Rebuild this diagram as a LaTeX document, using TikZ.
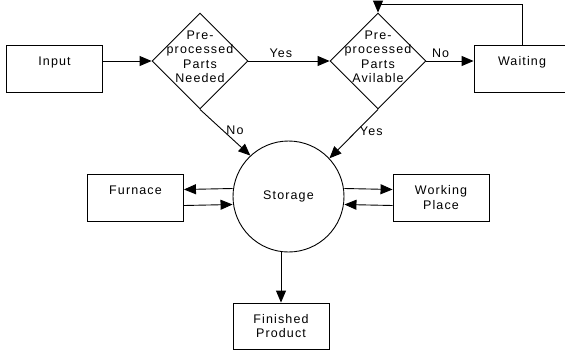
\documentclass[tikz,border=0pt]{standalone}
\usepackage{fontspec}
\setmainfont{Liberation Sans}[LetterSpace=9]
\usetikzlibrary{arrows.meta,shapes.geometric}
\newcommand{\flowfont}{\fontsize{12.5}{14.5}\selectfont}
\tikzset{
  box/.style={draw, line width=0.9pt, minimum width=96pt, minimum height=47pt,
              inner sep=0pt, align=center, font=\flowfont},
  onebox/.style={box, text height=9pt, text depth=15pt},
  ask/.style={draw, diamond, line width=0.9pt, minimum width=96pt, minimum height=96pt,
              inner sep=0pt},
  asktext/.style={font=\flowfont, align=center, yshift=4pt},
  lbl/.style={font=\flowfont},
  arr/.style={-{Triangle[length=12pt, width=10pt]}, line width=0.9pt},
}
\begin{document}
\begin{tikzpicture}[x=1pt, y=-1pt]
    \useasboundingbox (0,0) rectangle (565,351);
    \node[onebox] (in) at (54.5,68.5) {Input};
    \node[ask, label={[asktext]center:Pre-\\processed\\Parts\\Needed}] (need) at (200,61) {};
    \node[ask, label={[asktext]center:Pre-\\processed\\Parts\\Avilable}] (avail) at (378,61) {};
    \node[onebox] (wait) at (522,68.5) {Waiting};
    \node[draw, circle, line width=0.9pt, minimum size=111pt, inner sep=0pt, font=\flowfont]
      (store) at (288.5,196.5) {Storage};
    \node[onebox] (furn) at (135.5,197.5) {Furnace};
    \node[box] (work) at (441,197.5) {Working\\Place};
    \node[box, minimum height=46pt] (fin) at (281,326) {Finished\\Product};
    \draw[arr] (in.east |- need.west) -- (need.west);
    \draw[arr] (need.east) -- node[lbl, above, pos=0.4] {Yes} (avail.west);
    \draw[arr] (avail.east) -- node[lbl, above, pos=0.3] {No} (avail.east -| wait.west);
    \draw[arr] (wait.north) -- ++(0,-40) -| (avail.north);
    \draw[arr] (need.south) -- node[lbl, right, pos=0.45] {No} (store.133);
    \draw[arr] (avail.south) -- node[lbl, right, pos=0.45] {Yes} (store.43);
    \draw[arr] ([yshift=8pt]store.west) -- ([yshift=8pt]furn.east);
    \draw[arr] ([yshift=-8pt]furn.east) -- ([yshift=-8pt]store.west);
    \draw[arr] ([yshift=8pt]store.east) -- ([yshift=8pt]work.west);
    \draw[arr] ([yshift=-8pt]work.west) -- ([yshift=-8pt]store.east);
    \draw[arr] (store.south -| fin.north) -- (fin.north);
  \end{tikzpicture}
\end{document}
